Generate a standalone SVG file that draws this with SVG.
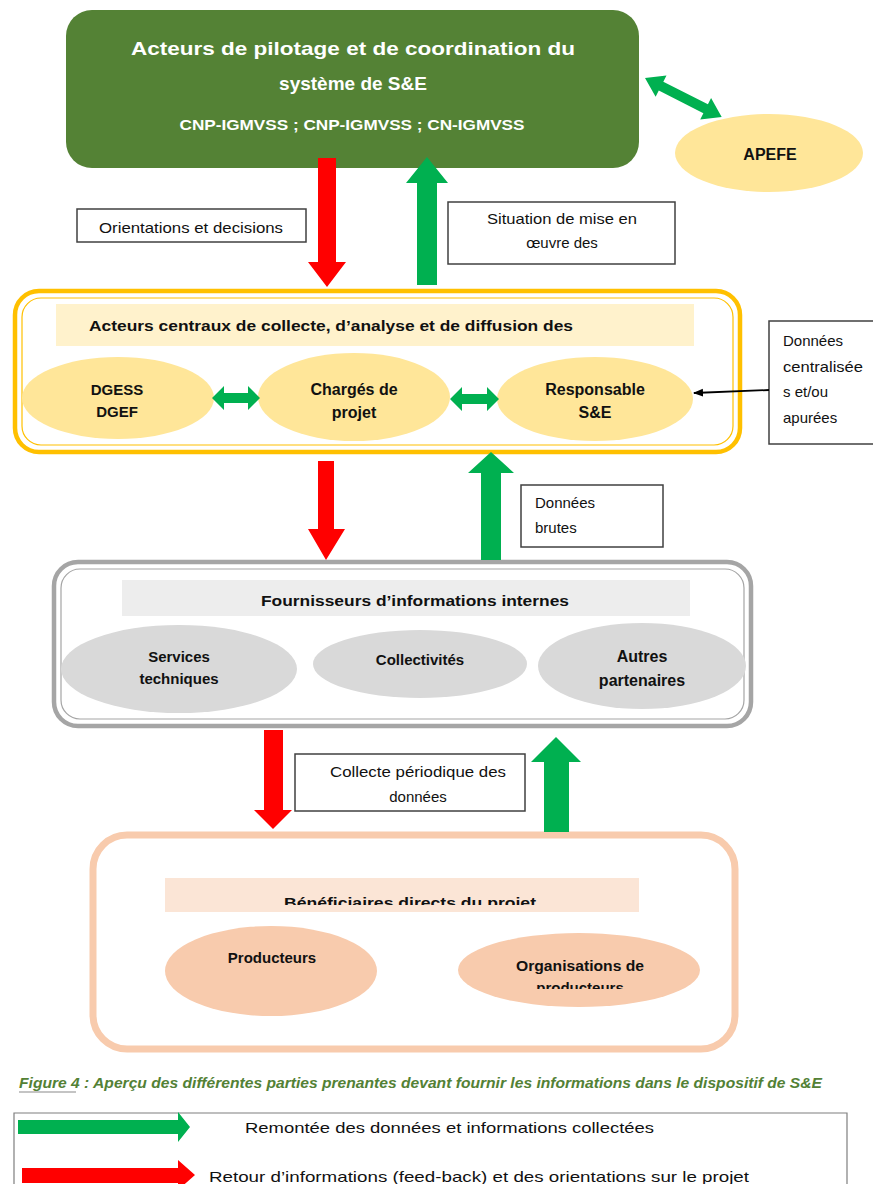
<svg xmlns="http://www.w3.org/2000/svg" width="873" height="1184" viewBox="0 0 873 1184">
<style>
text{font-family:"Liberation Sans",Arial,sans-serif;fill:#111}
.b{font-weight:bold}
.c{text-anchor:middle}
.w{fill:#fff}
.lbl{fill:#fff;stroke:#404040;stroke-width:1.5}
.g{fill:#00B050}
.r{fill:#FF0000}
.ye{fill:#FFE699}
.gr{fill:#D9D9D9}
.pe{fill:#F8CBAD}
</style>
<defs>
<marker id="ah" markerWidth="10" markerHeight="10" refX="9" refY="5" orient="auto" markerUnits="userSpaceOnUse"><path d="M0,1 L10,5 L0,9 Z" fill="#000"/></marker>
<clipPath id="clipBen"><rect x="160" y="870" width="490" height="35"/></clipPath>
<clipPath id="clipOrg"><rect x="455" y="930" width="250" height="59"/></clipPath>
</defs>
<rect width="873" height="1184" fill="#fff"/>

<g id="pilotage">
<rect x="66" y="10" width="573" height="158" rx="26" fill="#548235"/>
<text class="b c w" x="353" y="55" font-size="19" textLength="444" lengthAdjust="spacingAndGlyphs">Acteurs de pilotage et de coordination du</text>
<text class="b c w" x="353" y="90" font-size="19">système de S&amp;E</text>
<text class="b c w" x="352" y="130" font-size="14" textLength="345" lengthAdjust="spacingAndGlyphs">CNP-IGMVSS ; CNP-IGMVSS ; CN-IGMVSS</text>
</g>

<g id="apefe">
<ellipse class="ye" cx="769" cy="153" rx="94" ry="39"/>
<text class="b c" x="770" y="160" font-size="16">APEFE</text>
</g>

<g id="lbl-orientations">
<rect class="lbl" x="77" y="209" width="229" height="33"/>
<text class="c" x="191" y="233" font-size="15" textLength="184" lengthAdjust="spacingAndGlyphs">Orientations et decisions</text>
</g>

<g id="lbl-situation">
<rect class="lbl" x="448" y="202" width="227" height="62"/>
<text class="c" x="562" y="224" font-size="15" textLength="150" lengthAdjust="spacingAndGlyphs">Situation de mise en</text>
<text class="c" x="562" y="248" font-size="15">œuvre des</text>
</g>

<g id="acteurs-centraux">
<rect x="15" y="291" width="725" height="161" rx="24" fill="#fff" stroke="#FFC000" stroke-width="4.5"/>
<rect x="22" y="298" width="711" height="147" rx="19" fill="none" stroke="#FFC000" stroke-width="1.2"/>
<rect x="56" y="304" width="638" height="42" fill="#FFF2CC"/>
<text class="b" x="89" y="331" font-size="15" textLength="484" lengthAdjust="spacingAndGlyphs">Acteurs centraux de collecte, d’analyse et de diffusion des</text>
</g>

<g id="dgess">
<ellipse class="ye" cx="118" cy="398" rx="96" ry="41"/>
<text class="b c" x="117" y="395" font-size="15">DGESS</text>
<text class="b c" x="117" y="417" font-size="15">DGEF</text>
</g>
<g id="charges">
<ellipse class="ye" cx="354" cy="397" rx="96" ry="44"/>
<text class="b c" x="354" y="395" font-size="16">Chargés de</text>
<text class="b c" x="354" y="418" font-size="16">projet</text>
</g>
<g id="responsable">
<ellipse class="ye" cx="595" cy="399" rx="98" ry="42"/>
<text class="b c" x="595" y="395" font-size="16">Responsable</text>
<text class="b c" x="595" y="418" font-size="16">S&amp;E</text>
</g>

<g id="lbl-donnees-centralisees">
<rect class="lbl" x="769" y="321" width="110" height="123"/>
<text x="783" y="346" font-size="15">Données</text>
<text x="783" y="372" font-size="15" textLength="80" lengthAdjust="spacingAndGlyphs">centralisée</text>
<text x="783" y="397" font-size="15">s et/ou</text>
<text x="783" y="423" font-size="15">apurées</text>
</g>

<g id="lbl-brutes">
<rect class="lbl" x="521" y="485" width="142" height="62"/>
<text x="535" y="508" font-size="15">Données</text>
<text x="535" y="533" font-size="15">brutes</text>
</g>

<g id="fournisseurs">
<rect x="54" y="562" width="697" height="164" rx="24" fill="#fff" stroke="#A5A5A5" stroke-width="4.5"/>
<rect x="61" y="569" width="683" height="150" rx="19" fill="none" stroke="#A5A5A5" stroke-width="1.2"/>
<rect x="122" y="580" width="568" height="36" fill="#EDEDED"/>
<text class="b c" x="415" y="606" font-size="15" textLength="308" lengthAdjust="spacingAndGlyphs">Fournisseurs d’informations internes</text>
</g>
<g id="services">
<ellipse class="gr" cx="179" cy="669" rx="118" ry="44"/>
<text class="b c" x="179" y="662" font-size="15">Services</text>
<text class="b c" x="179" y="684" font-size="15">techniques</text>
</g>
<g id="collectivites">
<ellipse class="gr" cx="420" cy="664" rx="107" ry="34"/>
<text class="b c" x="420" y="665" font-size="15">Collectivités</text>
</g>
<g id="autres">
<ellipse class="gr" cx="642" cy="666" rx="104" ry="43"/>
<text class="b c" x="642" y="662" font-size="16">Autres</text>
<text class="b c" x="642" y="686" font-size="16">partenaires</text>
</g>

<g id="lbl-collecte">
<rect class="lbl" x="295" y="754" width="230" height="57"/>
<text class="c" x="418" y="777" font-size="15" textLength="176" lengthAdjust="spacingAndGlyphs">Collecte périodique des</text>
<text class="c" x="418" y="802" font-size="15">données</text>
</g>

<g id="beneficiaires">
<rect x="93" y="835" width="642" height="214" rx="34" fill="#fff" stroke="#F8CBAD" stroke-width="7"/>
<rect x="165" y="878" width="474" height="34" fill="#FBE5D6"/>
<text class="b c" x="410" y="908" font-size="15" clip-path="url(#clipBen)" textLength="252" lengthAdjust="spacingAndGlyphs">Bénéficiaires directs du projet</text>
</g>
<g id="producteurs">
<ellipse class="pe" cx="271" cy="971" rx="106" ry="45"/>
<text class="b c" x="272" y="963" font-size="15">Producteurs</text>
</g>
<g id="organisations">
<ellipse class="pe" cx="579" cy="970" rx="121" ry="37"/>
<text class="b c" x="580" y="971" font-size="15" textLength="128" lengthAdjust="spacingAndGlyphs">Organisations de</text>
<text class="b c" x="580" y="993" font-size="15" clip-path="url(#clipOrg)">producteurs</text>
</g>

<g id="connectors">
<polygon class="g" transform="translate(645,78) rotate(26.9)" points="0,0 18,-12 18,-5 68,-5 68,-12 86,0 68,12 68,5 18,5 18,12"/>
<polygon class="r" points="318,158 336,158 336,262 346,262 327,287 308,262 318,262"/>
<polygon class="g" points="427,157 448,183 437,183 437,285 417,285 417,183 406,183"/>
<polygon class="g" points="212,398 224,386 224,393 248,393 248,386 260,398 248,410 248,403 224,403 224,410"/>
<polygon class="g" points="450,399 462,387 462,394 487,394 487,387 499,399 487,411 487,404 462,404 462,411"/>
<line x1="769" y1="390" x2="694" y2="393" stroke="#000" stroke-width="1.8" marker-end="url(#ah)"/>
<polygon class="r" points="318,461 334,461 334,529 345,529 326,560 308,529 318,529"/>
<polygon class="g" points="491,452 514,473 501,473 501,560 481,560 481,473 468,473"/>
<polygon class="r" points="264,730 283,730 283,810 292,810 273,829 254,810 264,810"/>
<polygon class="g" points="556,737 581,762 569,762 569,832 544,832 544,762 531,762"/>
</g>

<g id="caption">
<text x="19" y="1088" font-size="14" font-style="italic" font-weight="bold" style="fill:#538135" textLength="803" lengthAdjust="spacingAndGlyphs">Figure 4 : Aperçu des différentes parties prenantes devant fournir les informations dans le dispositif de S&amp;E</text>
<line x1="19" y1="1092" x2="76" y2="1092" stroke="#8a8a8a" stroke-width="1.2"/>
</g>

<g id="legend">
<path d="M14,1184 V1113 H847 V1184" fill="none" stroke="#7f7f7f" stroke-width="1.2"/>
<polygon class="g" points="18,1120 178,1120 178,1112 190,1127 178,1142 178,1134 18,1134"/>
<text x="245" y="1133" font-size="15" textLength="409" lengthAdjust="spacingAndGlyphs">Remontée des données et informations collectées</text>
<polygon class="r" points="22,1168 178,1168 178,1160 195,1175 178,1190 178,1183 22,1183"/>
<text x="209" y="1182" font-size="15" textLength="540" lengthAdjust="spacingAndGlyphs">Retour d’informations (feed-back) et des orientations sur le projet</text>
</g>
</svg>
